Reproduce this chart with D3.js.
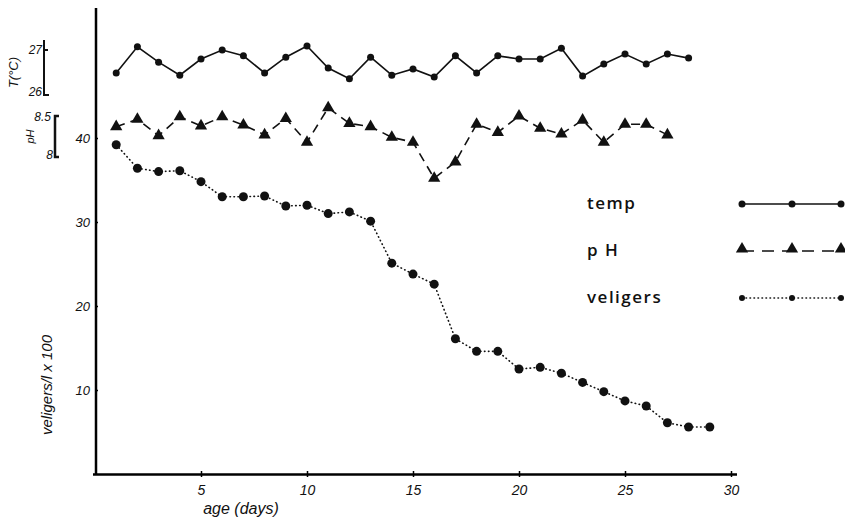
<!DOCTYPE html>
<html>
<head>
<meta charset="utf-8">
<script src="https://cdn.jsdelivr.net/npm/d3@7"></script>
<style>
  body { margin: 0; background: #fff; }
  svg { display: block; }
  .hand { font-family: "Liberation Sans", sans-serif; font-style: italic; fill: #111; }
  .legend { font-family: "Open Sans", sans-serif; font-weight: 600; font-size: 17px; fill: #111; letter-spacing: 1.5px; }
</style>
</head>
<body>
<svg></svg>
<script>
"use strict";
// data, age in days
var tempDays = d3.range(1, 29);
var tempValues = [26.49, 27.07, 26.73, 26.44, 26.8, 27.0, 26.87, 26.49, 26.84, 27.09,
                  26.6, 26.36, 26.84, 26.44, 26.58, 26.4, 26.87, 26.49, 26.87, 26.8,
                  26.8, 27.04, 26.42, 26.69, 26.91, 26.69, 26.91, 26.82];
var phDays = d3.range(1, 28);
var phValues = [8.37, 8.46, 8.26, 8.49, 8.38, 8.49, 8.39, 8.27, 8.47, 8.18,
                8.6, 8.41, 8.37, 8.24, 8.18, 7.74, 7.94, 8.4, 8.3, 8.5,
                8.35, 8.28, 8.45, 8.18, 8.4, 8.4, 8.27];
var veligerDays = d3.range(1, 30);
var veligerValues = [39.2, 36.4, 36.0, 36.1, 34.8, 33.0, 33.0, 33.1, 31.9, 32.0,
                     31.0, 31.2, 30.1, 25.1, 23.8, 22.6, 16.1, 14.6, 14.6, 12.5,
                     12.7, 12.0, 10.9, 9.8, 8.7, 8.1, 6.1, 5.6, 5.6];
var xTicks = [5, 10, 15, 20, 25, 30];
var yTicks = [10, 20, 30, 40];
var legendNames = ["temp", "pH", "veligers"];

var svgWidth = 845, svgHeight = 522;
var svg = d3.select("svg").attr("width", svgWidth).attr("height", svgHeight);

var x = d3.scaleLinear().domain([0, 30]).range([95, 731]);
var yVel = d3.scaleLinear().domain([0, 40]).range([474, 138]);
var yTemp = d3.scaleLinear().domain([26, 27]).range([95, 50]);
var yPh = d3.scaleLinear().domain([8, 8.5]).range([157, 116]);

// axes
var xAxis = d3.axisBottom(x).tickValues(xTicks).tickSize(3).tickPadding(8);
var gx = svg.append("g").attr("transform", "translate(0,474)").call(xAxis);
gx.select(".domain").attr("d", "M93,0.5H737").attr("stroke-width", 2.5);
gx.selectAll(".tick line").attr("y1", -3).attr("stroke-width", 1.5);
gx.selectAll(".tick text").attr("class", "hand").attr("font-size", 14);

var yAxis = d3.axisLeft(yVel).tickValues(yTicks).tickSize(3).tickPadding(3);
var gy = svg.append("g").attr("transform", "translate(96,0)").call(yAxis);
gy.select(".domain").attr("d", "M0,8V475").attr("stroke-width", 2.5);
gy.selectAll(".tick line").attr("x2", 2).attr("stroke-width", 1.5);
gy.selectAll(".tick text").attr("class", "hand").attr("font-size", 13);
gx.attr("font-family", null); gy.attr("font-family", null);

// small bracket scales for temp and pH
var tBracket = svg.append("g");
tBracket.append("path")
  .attr("d", "M44," + (yTemp(27) - 10) + "V" + yTemp(26) + "H49M44," + yTemp(27) + "H48")
  .attr("fill", "none").attr("stroke", "#111").attr("stroke-width", 2);
tBracket.append("text").attr("class", "hand").attr("font-size", 12).attr("text-anchor", "end")
  .attr("x", 42).attr("y", yTemp(27) + 4).text("27");
tBracket.append("text").attr("class", "hand").attr("font-size", 12).attr("text-anchor", "end")
  .attr("x", 42).attr("y", yTemp(26) + 1).text("26");
tBracket.append("text").attr("class", "hand").attr("font-size", 13).attr("text-anchor", "middle")
  .attr("transform", "translate(18," + yTemp(26.5) + ") rotate(-90)").text("T(°C)");

var pBracket = svg.append("g");
pBracket.append("path")
  .attr("d", "M59," + yPh(8.5) + "H55V" + yPh(8) + "H59")
  .attr("fill", "none").attr("stroke", "#111").attr("stroke-width", 2.5);
pBracket.append("text").attr("class", "hand").attr("font-size", 12).attr("text-anchor", "end")
  .attr("x", 51).attr("y", yPh(8.5) + 5).text("8.5");
pBracket.append("text").attr("class", "hand").attr("font-size", 12).attr("text-anchor", "end")
  .attr("x", 53).attr("y", yPh(8) + 2).text("8");
pBracket.append("text").attr("class", "hand").attr("font-size", 11).attr("text-anchor", "middle")
  .attr("transform", "translate(34," + yPh(8.25) + ") rotate(-90)").text("pH");

// axis titles
svg.append("text").attr("class", "hand").attr("font-size", 16).attr("text-anchor", "middle")
  .attr("x", 241).attr("y", 514).text("age  (days)");
svg.append("text").attr("class", "hand").attr("font-size", 15).attr("text-anchor", "middle")
  .attr("transform", "translate(52,385) rotate(-90)").text("veligers/l x 100");

// temp series
var tempLine = d3.line().x(function(d, i) { return x(tempDays[i]); }).y(function(d) { return yTemp(d); });
svg.append("path").datum(tempValues).attr("d", tempLine)
  .attr("fill", "none").attr("stroke", "#111").attr("stroke-width", 1.6);
svg.selectAll(".tdot").data(tempValues).enter().append("circle").attr("class", "tdot")
  .attr("cx", function(d, i) { return x(tempDays[i]); })
  .attr("cy", function(d) { return yTemp(d); })
  .attr("r", 3.5).attr("fill", "#111");

// pH series
var phLine = d3.line().x(function(d, i) { return x(phDays[i]); }).y(function(d) { return yPh(d); });
svg.append("path").datum(phValues).attr("d", phLine)
  .attr("fill", "none").attr("stroke", "#111").attr("stroke-width", 1.6)
  .attr("stroke-dasharray", "9,6");
var tri = d3.symbol().type(d3.symbolTriangle).size(65);
svg.selectAll(".ptri").data(phValues).enter().append("path").attr("class", "ptri")
  .attr("d", tri)
  .attr("transform", function(d, i) { return "translate(" + x(phDays[i]) + "," + yPh(d) + ")"; })
  .attr("fill", "#111");

// veligers series
var velLine = d3.line().x(function(d, i) { return x(veligerDays[i]); }).y(function(d) { return yVel(d); });
svg.append("path").datum(veligerValues).attr("d", velLine)
  .attr("fill", "none").attr("stroke", "#111").attr("stroke-width", 1.6)
  .attr("stroke-dasharray", "0.5,3.5").attr("stroke-linecap", "round");
svg.selectAll(".vdot").data(veligerValues).enter().append("circle").attr("class", "vdot")
  .attr("cx", function(d, i) { return x(veligerDays[i]); })
  .attr("cy", function(d) { return yVel(d); })
  .attr("r", 4.5).attr("fill", "#111");

// legend
var legendX = [742, 792, 841];
var legendY = [204, 251, 298];
var legendText = ["temp", "p H", "veligers"];
var leg = svg.selectAll(".leg").data(legendNames).enter().append("g").attr("class", "leg")
  .attr("transform", function(d, i) { return "translate(0," + legendY[i] + ")"; });
leg.append("text").attr("class", "legend").attr("x", 587).attr("y", 5)
  .text(function(d, i) { return legendText[i]; });
leg.append("line").attr("x1", legendX[0]).attr("x2", legendX[2])
  .attr("stroke", "#111").attr("stroke-width", 1.6)
  .attr("stroke-dasharray", function(d) { return d == "pH" ? "12,8" : d == "veligers" ? "0.5,3.5" : null; })
  .attr("stroke-linecap", function(d) { return d == "veligers" ? "round" : "butt"; });
leg.each(function(d) {
  var g = d3.select(this);
  legendX.forEach(function(lx) {
    if (d == "pH") {
      g.append("path").attr("d", tri).attr("transform", "translate(" + lx + ",-2)").attr("fill", "#111");
    } else {
      g.append("circle").attr("cx", lx).attr("cy", 0).attr("r", d == "temp" ? 3.5 : 3).attr("fill", "#111");
    }
  });
});
</script>
</body>
</html>
